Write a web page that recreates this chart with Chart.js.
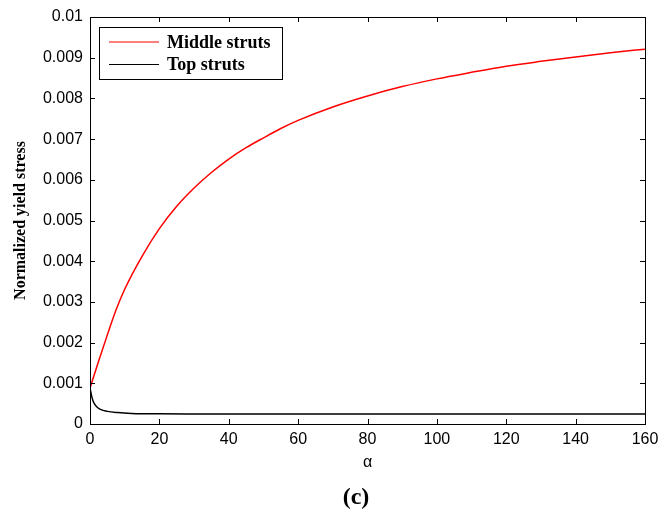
<!DOCTYPE html>
<html>
<head>
<meta charset="utf-8">
<script src="https://cdn.jsdelivr.net/npm/chart.js@4.4.1/dist/chart.umd.min.js"></script>
<style>
  html, body { margin: 0; padding: 0; background: #fff; }
  #wrap { width: 665px; height: 513px; }
</style>
</head>
<body>
<div id="wrap"><canvas id="yieldChart" width="665" height="513"></canvas></div>
<script>
/* ====== DATA ====== */
const seriesNames = ["Middle struts", "Top struts"];

const middleAlpha = [0, 2.5, 5, 7.5, 10, 15, 20, 25, 30, 35, 40, 45, 50, 55, 60, 70, 80, 90, 100, 110, 120, 130, 140, 150, 160];
const middleStress = [0.00088, 0.00155, 0.00219, 0.00280, 0.00331, 0.00412, 0.00480, 0.00535, 0.00580, 0.00618,
    0.00651, 0.00679, 0.00703, 0.00726, 0.00746, 0.00779, 0.00806, 0.00829, 0.00848, 0.00864, 0.00879, 0.00891,
    0.00902, 0.00912, 0.00921];

const topAlpha = [0, 0.5, 1, 2, 3, 5, 8, 12, 20, 30, 60, 100, 160];
const topStress = [0.00088, 0.00068, 0.00054, 0.00042, 0.00036, 0.00031, 0.00028, 0.00026, 0.00025, 0.000248,
    0.000246, 0.000245, 0.000245];

const xTicks = [0, 20, 40, 60, 80, 100, 120, 140, 160];
const yTicks = [0, 0.001, 0.002, 0.003, 0.004, 0.005, 0.006, 0.007, 0.008, 0.009, 0.01];

const xTitle = "α";
const yTitle = "Normalized yield stress";
const panelLabel = "(c)";

/* ====== HELPERS ====== */
const serif = "'Liberation Serif', 'Times New Roman', serif";
const toPoints = (xs, ys) => xs.map((x, i) => ({ x: x, y: ys[i] }));
const fixTicks = (values) => (scale) => { scale.ticks = values.map(v => ({ value: v })); };

// MATLAB-like box with inward tick marks
const boxPlugin = {
    id: "boxTicks",
    afterDatasetsDraw(chart) {
        const { ctx, chartArea: a, scales } = chart;
        const len = 5;
        ctx.save();
        ctx.strokeStyle = "#000";
        ctx.lineWidth = 1;
        ctx.beginPath();
        scales.x.ticks.forEach(t => {
            const px = Math.round(scales.x.getPixelForValue(t.value)) + 0.5;
            ctx.moveTo(px, a.bottom); ctx.lineTo(px, a.bottom - len);
            ctx.moveTo(px, a.top); ctx.lineTo(px, a.top + len);
        });
        scales.y.ticks.forEach(t => {
            const py = Math.round(scales.y.getPixelForValue(t.value)) + 0.5;
            ctx.moveTo(a.left, py); ctx.lineTo(a.left + len, py);
            ctx.moveTo(a.right, py); ctx.lineTo(a.right - len, py);
        });
        ctx.stroke();
        ctx.strokeRect(Math.round(a.left) + 0.5, Math.round(a.top) + 0.5,
            Math.round(a.right - a.left), Math.round(a.bottom - a.top));
        ctx.restore();
    }
};

// boxed legend inside the plot, top-left, plus the panel label under the axis
const legendPlugin = {
    id: "boxLegend",
    afterDraw(chart) {
        const { ctx, chartArea: a } = chart;
        const x0 = a.left + 9, y0 = a.top + 10, w = 183, h = 52;
        ctx.save();
        ctx.fillStyle = "#fff";
        ctx.fillRect(x0, y0, w, h);
        ctx.strokeStyle = "#000";
        ctx.lineWidth = 1;
        ctx.strokeRect(x0 + 0.5, y0 + 0.5, w, h);
        ctx.font = "bold 18px " + serif;
        ctx.textBaseline = "middle";
        chart.data.datasets.forEach((ds, i) => {
            const ly = y0 + 15 + i * 22.5;
            ctx.strokeStyle = ds.borderColor;
            ctx.lineWidth = 1.2;
            ctx.beginPath();
            ctx.moveTo(x0 + 10, ly); ctx.lineTo(x0 + 60, ly);
            ctx.stroke();
            ctx.fillStyle = "#000";
            ctx.fillText(ds.label, x0 + 68, ly + 1);
        });

        ctx.font = "bold 24px " + serif;
        ctx.textAlign = "center";
        ctx.fillText(panelLabel, 356, 498);
        ctx.restore();
    }
};

/* ====== CHART ====== */
const tickFont = { family: "Arial, 'Liberation Sans', sans-serif", size: 16 };

new Chart(document.getElementById("yieldChart"), {
    type: "line",
    data: {
        datasets: [
            {
                label: seriesNames[0],
                data: toPoints(middleAlpha, middleStress),
                borderColor: "#ff0000",
                borderWidth: 1.5,
                pointRadius: 0,
                cubicInterpolationMode: "monotone",
                fill: false
            },
            {
                label: seriesNames[1],
                data: toPoints(topAlpha, topStress),
                borderColor: "#000000",
                borderWidth: 1.5,
                pointRadius: 0,
                cubicInterpolationMode: "monotone",
                fill: false
            }
        ]
    },
    options: {
        responsive: false,
        animation: false,
        layout: { padding: { top: 17, right: 20, left: 0, bottom: 40.4 } },
        plugins: {
            legend: { display: false },
            tooltip: { enabled: false }
        },
        scales: {
            x: {
                type: "linear",
                min: 0,
                max: 160,
                afterBuildTicks: fixTicks(xTicks),
                afterFit: (s) => { s.height = 48.6; },
                grid: { display: false, drawTicks: false },
                border: { display: false },
                ticks: { color: "#000", font: tickFont, padding: 6, maxRotation: 0 },
                title: {
                    display: true,
                    text: xTitle,
                    color: "#000",
                    font: tickFont,
                    padding: { top: 0, bottom: 0 }
                }
            },
            y: {
                type: "linear",
                min: 0,
                max: 0.01,
                afterBuildTicks: fixTicks(yTicks),
                afterFit: (s) => { s.width = 90; },
                grid: { display: false, drawTicks: false },
                border: { display: false },
                ticks: {
                    color: "#000",
                    font: tickFont,
                    padding: 7,
                    callback: (v) => String(+v.toFixed(3))
                },
                title: {
                    display: true,
                    text: yTitle,
                    color: "#000",
                    font: { family: serif, size: 16, weight: "bold" },
                    padding: { top: 11, bottom: 0 }
                }
            }
        }
    },
    plugins: [boxPlugin, legendPlugin]
});
</script>
</body>
</html>
